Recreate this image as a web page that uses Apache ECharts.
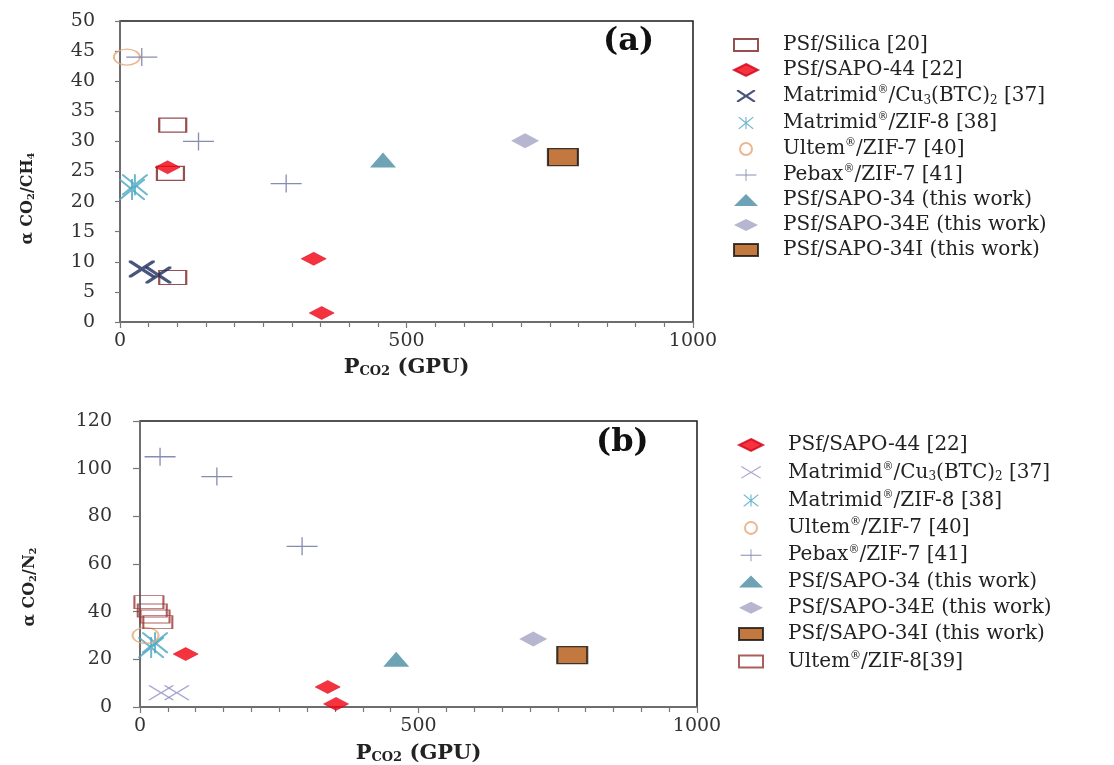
<!DOCTYPE html>
<html><head><meta charset="utf-8">
<script src="https://cdn.jsdelivr.net/npm/echarts@6/dist/echarts.min.js"></script>
<style>html,body{margin:0;padding:0;background:#fff}#c{width:1114px;height:765px}</style>
</head><body><div id="c"></div>
<script>
// ---------- Panel (a): alpha CO2/CH4 vs P_CO2 (GPU) ----------
const silicaA     = [[92,32.7],[88,24.7],[92,7.4]];
const sapo44A     = [[83,25.7],[338,10.5],[352,1.5]];
const cuBtcA      = [[38,8.8],[67,7.8]];
const zif8A       = [[21,22.0],[26,22.8]];
const ultemZif7A  = [[12,44]];
const pebaxA      = [[38,44],[137,30],[290,23]];
const sapo34A     = [[459,26.9]];
const sapo34EA    = [[707,30.1]];
const sapo34IA    = [[773,27.4]];
// ---------- Panel (b): alpha CO2/N2 vs P_CO2 (GPU) ----------
const sapo44B     = [[82,22.2],[337,8.4],[352,1.3]];
const cuBtcB      = [[38,6],[66,6]];
const zif8B       = [[20,25],[27,27]];
const ultemZif7B  = [[10,30]];
const pebaxB      = [[36,105],[138,96.7],[291,67.4]];
const sapo34B     = [[460,20]];
const sapo34EB    = [[706,28.5]];
const sapo34IB    = [[776,21.8]];
const ultemZif8B  = [[16,44],[22,40.5],[27,38],[32,35.6]];
// ---------- tick labels ----------
const xTicks  = [0, 500, 1000];
const yTicksA = [0,5,10,15,20,25,30,35,40,45,50];
const yTicksB = [0,20,40,60,80,100,120];
// ---------- legend labels ----------
const namesA = ['PSf/Silica [20]','PSf/SAPO-44 [22]','Matrimid®/Cu₃(BTC)₂ [37]','Matrimid®/ZIF-8 [38]','Ultem®/ZIF-7 [40]','Pebax®/ZIF-7 [41]','PSf/SAPO-34 (this work)','PSf/SAPO-34E (this work)','PSf/SAPO-34I (this work)'];
const namesB = ['PSf/SAPO-44 [22]','Matrimid®/Cu₃(BTC)₂ [37]','Matrimid®/ZIF-8 [38]','Ultem®/ZIF-7 [40]','Pebax®/ZIF-7 [41]','PSf/SAPO-34 (this work)','PSf/SAPO-34E (this work)','PSf/SAPO-34I (this work)','Ultem®/ZIF-8[39]'];

const FONT = 'DejaVu Serif';

function xShape(w,h,t){
  const L = Math.sqrt(w*w+h*h), hx = t*L/(2*h), hy = t*L/(2*w);
  const p = [[0,0],[hx,0],[w/2,h/2-hy],[w-hx,0],[w,0],[w,hy],[w/2+hx,h/2],[w,h-hy],[w,h],[w-hx,h],[w/2,h/2+hy],[hx,h],[0,h],[0,h-hy],[w/2-hx,h/2],[0,hy]];
  return 'M' + p.map(q=>q[0].toFixed(2)+','+q[1].toFixed(2)).join(' L') + ' Z';
}
function plusShape(w,h,t){
  const a=w/2-t/2,b=w/2+t/2,c=h/2-t/2,d=h/2+t/2;
  return `M${a},0 L${b},0 L${b},${c} L${w},${c} L${w},${d} L${b},${d} L${b},${h} L${a},${h} L${a},${d} L0,${d} L0,${c} L${a},${c} Z`;
}
function starShape(w,h,t){
  const a=w/2-t/2,b=w/2+t/2;
  return xShape(w,h,t) + ` M${a},0 L${b},0 L${b},${h} L${a},${h} Z`;
}

const styles = {
  silica:  {symbol:'rect', symbolSize:[27,14], itemStyle:{color:'rgba(255,255,255,0)', borderColor:'#7d2222', borderWidth:1.6}},
  sapo44:  {symbol:'diamond', symbolSize:[25,13], itemStyle:{color:'#f2000f', borderColor:'#d4001a', borderWidth:0.6}},
  cuA:     {symbol:'path://'+xShape(26,17,3.2), symbolSize:[26,17], itemStyle:{color:'#1b2b5c'}},
  cuB:     {symbol:'path://'+xShape(25,15,1.4), symbolSize:[25,15], itemStyle:{color:'#9090c4'}},
  zif8:    {symbol:'path://'+starShape(26,21,2.0), symbolSize:[26,21], itemStyle:{color:'#4aa6c2'}},
  ultem7:  {symbol:'circle', symbolSize:[26,16], itemStyle:{color:'rgba(255,255,255,0)', borderColor:'#e6a574', borderWidth:1.6}},
  pebax:   {symbol:'path://'+plusShape(31,18,1.3), symbolSize:[31,18], itemStyle:{color:'#66709e'}},
  sapo34:  {symbol:'triangle', symbolSize:[26,15], itemStyle:{color:'#4a8ba3'}},
  sapo34E: {symbol:'diamond', symbolSize:[28,15], itemStyle:{color:'#a4a4c6'}},
  sapo34I: {symbol:'rect', symbolSize:[30,17], itemStyle:{color:'#b4560f', borderColor:'#111', borderWidth:1.6}},
  ultem8:  {symbol:'rect', symbolSize:[29,13], itemStyle:{color:'rgba(255,255,255,0)', borderColor:'#9a3434', borderWidth:1.4}}
};

function mk(prefix, label, data, gi, st){
  return Object.assign({type:'scatter', name: prefix+label, data: data, xAxisIndex: gi, yAxisIndex: gi, z: 3}, JSON.parse(JSON.stringify(st)));
}

const seriesA = [
  mk('A:', namesA[0], silicaA, 0, styles.silica),
  mk('A:', namesA[1], sapo44A, 0, styles.sapo44),
  mk('A:', namesA[2], cuBtcA, 0, styles.cuA),
  mk('A:', namesA[3], zif8A, 0, styles.zif8),
  mk('A:', namesA[4], ultemZif7A, 0, styles.ultem7),
  mk('A:', namesA[5], pebaxA, 0, styles.pebax),
  mk('A:', namesA[6], sapo34A, 0, styles.sapo34),
  mk('A:', namesA[7], sapo34EA, 0, styles.sapo34E),
  mk('A:', namesA[8], sapo34IA, 0, styles.sapo34I)
];
const seriesB = [
  mk('B:', namesB[0], sapo44B, 1, styles.sapo44),
  mk('B:', namesB[1], cuBtcB, 1, styles.cuB),
  mk('B:', namesB[2], zif8B, 1, styles.zif8),
  mk('B:', namesB[3], ultemZif7B, 1, styles.ultem7),
  mk('B:', namesB[4], pebaxB, 1, styles.pebax),
  mk('B:', namesB[5], sapo34B, 1, styles.sapo34),
  mk('B:', namesB[6], sapo34EB, 1, styles.sapo34E),
  mk('B:', namesB[7], sapo34IB, 1, styles.sapo34I),
  mk('B:', namesB[8], ultemZif8B, 1, styles.ultem8)
];

function richLabel(label){
  return '{g| }{n|' + label.replace(/®/g,'}{sup|®}{n|').replace(/₃/g,'}{sub|3}{n|').replace(/₂/g,'}{sub|2}{n|') + '}';
}
const legendRich = {
  g:{width:20, fontSize:12},
  n:{fontFamily:FONT, fontSize:20, color:'#222', lineHeight:22},
  sup:{fontFamily:FONT, fontSize:11, color:'#222', verticalAlign:'top'},
  sub:{fontFamily:FONT, fontSize:12, color:'#222', verticalAlign:'bottom'}
};
function mkLegend(prefix, names, left, top, gap){
  return {orient:'vertical', left:left, top:top, padding:0, itemWidth:24, itemHeight:12, itemGap:gap,
    selectedMode:false, data: names.map(n=>prefix+n),
    formatter: n => richLabel(n.slice(2)), textStyle:{rich:legendRich}};
}

const xNameRich = {
  b:{fontFamily:FONT, fontWeight:'bold', fontSize:21, color:'#222'},
  s:{fontFamily:FONT, fontWeight:'bold', fontSize:13, color:'#222', verticalAlign:'bottom'}
};
const yNameRich = {
  b:{fontFamily:FONT, fontWeight:'bold', fontSize:16, color:'#222'},
  s:{fontFamily:FONT, fontWeight:'bold', fontSize:10, color:'#222', verticalAlign:'bottom'}
};
function xAx(gi){
  return {type:'value', gridIndex:gi, min:xTicks[0], max:xTicks[xTicks.length-1], interval:xTicks[1]-xTicks[0],
    name:'{b|P}{s|CO2}{b| (GPU)}', nameLocation:'middle', nameGap: gi===0?35:36,
    nameTextStyle:{rich:xNameRich},
    axisLine:{lineStyle:{color:'#777', width:1.5}},
    axisTick:{show:true, length:6, lineStyle:{color:'#777', width:1.2}},
    minorTick:{show:true, splitNumber:10, length:5, lineStyle:{color:'#777', width:1.2}},
    axisLabel:{fontFamily:FONT, fontSize:19, color:'#333', margin:10, formatter: v => String(v)},
    splitLine:{show:false}};
}
function yAx(gi, ticks, nameStr, gap, pad){
  return {type:'value', gridIndex:gi, min:ticks[0], max:ticks[ticks.length-1], interval:ticks[1]-ticks[0],
    name:nameStr, nameLocation:'middle', nameGap:gap, nameRotate:90,
    nameTextStyle:{rich:yNameRich, padding:[0,pad,0,0]},
    axisLine:{show:true, lineStyle:{color:'#777', width:1.5}},
    axisTick:{show:true, length: gi===0?5:7, lineStyle:{color:'#777', width:1.2}},
    axisLabel:{fontFamily:FONT, fontSize:19, color:'#333', margin: gi===0?25:28, formatter: v => String(v)},
    splitLine:{show:false}};
}

const chart = echarts.init(document.getElementById('c'));
chart.setOption({
  backgroundColor:'#fff',
  animation:false,
  grid:[
    {left:120, top:21, width:573, height:301, show:true, borderColor:'#1a1a1a', borderWidth:1.5},
    {left:140, top:421, width:557, height:287, show:true, borderColor:'#1a1a1a', borderWidth:1.5}
  ],
  xAxis:[xAx(0), xAx(1)],
  yAxis:[
    yAx(0, yTicksA, '{b|α CO}{s|2}{b|/CH}{s|4}', 84, 54),
    yAx(1, yTicksB, '{b|α CO}{s|2}{b|/N}{s|2}', 102, 46)
  ],
  legend:[mkLegend('A:', namesA, 733, 35, 5), mkLegend('B:', namesB, 738, 435, 6.3)],
  graphic:[
    {type:'text', left:603, top:26, style:{text:'(a)', font:'bold 32px "DejaVu Serif"', fill:'#111'}},
    {type:'text', left:596, top:427, style:{text:'(b)', font:'bold 32px "DejaVu Serif"', fill:'#111'}}
  ],
  series: seriesA.concat(seriesB)
});
</script>
</body></html>
